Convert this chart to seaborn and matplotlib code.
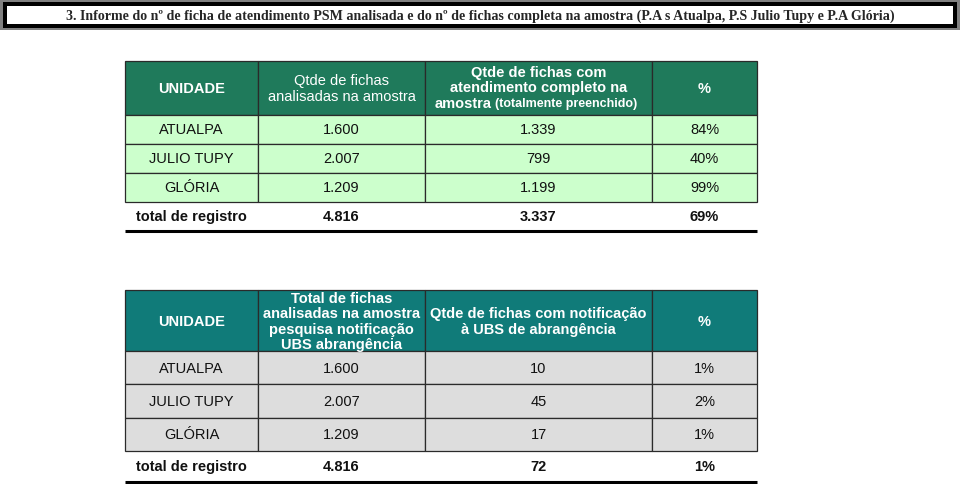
import matplotlib
matplotlib.use("Agg")
import matplotlib.pyplot as plt
from matplotlib.patches import Rectangle
import seaborn as sns

# dados das duas tabelas
unidades = ["ATUALPA", "JULIO TUPY", "GLÓRIA"]
fichas_analisadas = [1600, 2007, 1209]
fichas_completas = [1339, 799, 1199]
pct_completas = [84, 40, 99]
fichas_notificacao = [10, 45, 17]
pct_notificacao = [1, 2, 1]
total_analisadas = 4816
total_completas = 3337
total_pct_completas = 69
total_notificacao = 72
total_pct_notificacao = 1

titulo = ("3. Informe do nº de ficha de atendimento PSM analisada e do nº de fichas "
          "completa na amostra (P.A s Atualpa, P.S Julio Tupy e P.A Glória)")

sns.set_theme(style="white")
plt.rcParams["font.family"] = ["Liberation Sans", "DejaVu Sans"]

def fmt(v):
    return f"{v:,}".replace(",", ".")

# layout (pixels)
col_edges = [125, 258, 425, 652, 757]
col_centers = [(a + b) / 2 for a, b in zip(col_edges[:-1], col_edges[1:])]
edge = "#2a2a2a"
fs = 10.5

fig = plt.figure(figsize=(9.6, 4.85), dpi=100)
ax = fig.add_axes([0, 0, 1, 1])
ax.set_xlim(0, 960)
ax.set_ylim(485, 0)
ax.axis("off")

# title box
ax.add_patch(Rectangle((0, 0), 960, 31, facecolor="#808080", edgecolor="none"))
ax.add_patch(Rectangle((2.7, 2.7), 954.6, 26.3, facecolor="black", edgecolor="none"))
ax.add_patch(Rectangle((7, 7), 946, 18, facecolor="white", edgecolor="none"))
ax.text(480, 16.5, titulo, ha="center", va="center", fontsize=10.1,
        fontweight="bold", family=["Liberation Serif", "DejaVu Serif"])


def draw_table(top, head_h, row_h, head_color, row_color, rows, total_row, total_h, bottom):
    # header
    for i in range(4):
        ax.add_patch(Rectangle((col_edges[i], top), col_edges[i + 1] - col_edges[i], head_h,
                               facecolor=head_color, edgecolor=edge, lw=0.9))
    y = top + head_h
    for r in rows:
        for i in range(4):
            ax.add_patch(Rectangle((col_edges[i], y), col_edges[i + 1] - col_edges[i], row_h,
                                   facecolor=row_color, edgecolor=edge, lw=0.9))
        cy = y + row_h / 2
        for i, txt in enumerate(r):
            ax.text(col_centers[i], cy, txt, ha="center", va="center", fontsize=fs, color="#111111")
        y += row_h
    cy = y + total_h / 2
    for i, txt in enumerate(total_row):
        ax.text(col_centers[i], cy, txt, ha="center", va="center", fontsize=fs,
                fontweight="bold", color="#111111")
    ax.plot([col_edges[0], col_edges[-1]], [bottom, bottom], color="black", lw=2.2,
            solid_capstyle="butt")


# tabela 1
rows1 = [[u, fmt(a), fmt(c), f"{p}%"] for u, a, c, p in
         zip(unidades, fichas_analisadas, fichas_completas, pct_completas)]
draw_table(62, 54, 29, "#1f7a5b", "#ccffcc", rows1,
           ["total de registro", fmt(total_analisadas), fmt(total_completas), f"{total_pct_completas}%"],
           29, 232)
hc = "white"
ax.text(col_centers[0], 89, "UNIDADE", ha="center", va="center", fontsize=fs, color=hc, fontweight="bold")
ax.text(col_centers[1], 89, "Qtde de fichas\nanalisadas na amostra", ha="center", va="center",
        fontsize=fs, color=hc, linespacing=1.1)
ax.text(col_centers[2], 80.5, "Qtde de fichas com\natendimento completo na", ha="center", va="center",
        fontsize=fs, color=hc, fontweight="bold", linespacing=1.1)
ax.text(492, 104, "amostra", ha="right", va="center", fontsize=fs, color=hc, fontweight="bold")
ax.text(495, 104.5, "(totalmente preenchido)", ha="left", va="center", fontsize=9,
        color=hc, fontweight="bold")
ax.text(col_centers[3], 89, "%", ha="center", va="center", fontsize=fs, color=hc, fontweight="bold")

# tabela 2
rows2 = [[u, fmt(a), fmt(n), f"{p}%"] for u, a, n, p in
         zip(unidades, fichas_analisadas, fichas_notificacao, pct_notificacao)]
draw_table(291, 61, 33.3, "#107b79", "#dddddd", rows2,
           ["total de registro", fmt(total_analisadas), fmt(total_notificacao), f"{total_pct_notificacao}%"],
           31, 483)
ax.text(col_centers[0], 322, "UNIDADE", ha="center", va="center", fontsize=fs, color=hc, fontweight="bold")
ax.text(col_centers[1], 322, "Total de fichas\nanalisadas na amostra\npesquisa notificação\nUBS abrangência",
        ha="center", va="center", fontsize=fs, color=hc, fontweight="bold", linespacing=1.1)
ax.text(col_centers[2], 322, "Qtde de fichas com notificação\nà UBS de abrangência",
        ha="center", va="center", fontsize=fs, color=hc, fontweight="bold", linespacing=1.1)
ax.text(col_centers[3], 322, "%", ha="center", va="center", fontsize=fs, color=hc, fontweight="bold")

fig.savefig("out.png", dpi=100)
